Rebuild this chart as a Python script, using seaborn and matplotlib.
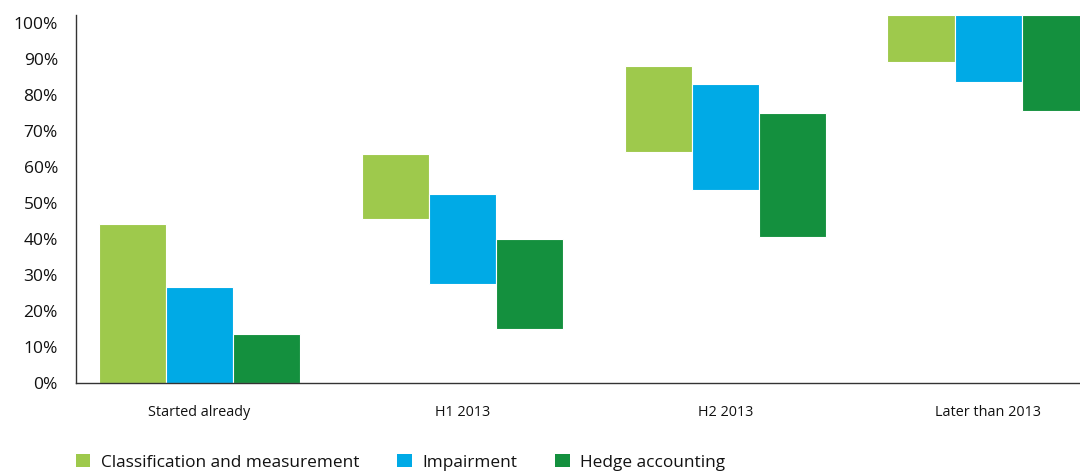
import numpy as np
import pandas as pd
import matplotlib.pyplot as plt
import seaborn as sns
from matplotlib.patches import Patch

# Data (% of respondents, cumulative bands per timing bucket)
categories = ["Started already", "H1 2013", "H2 2013", "Later than 2013"]
series = ["Classification and measurement", "Impairment", "Hedge accounting"]
colors = ["#9EC94C", "#00AAE6", "#14903E"]

class_low = [0, 45.5, 64, 89]
class_high = [44, 63.5, 88, 102]
impair_low = [0, 27.5, 53.5, 83.5]
impair_high = [26.5, 52.5, 83, 102]
hedge_low = [0, 15, 40.5, 75.5]
hedge_high = [13.5, 40, 75, 102]
y_ticks = [0, 10, 20, 30, 40, 50, 60, 70, 80, 90, 100]

lows = [class_low, impair_low, hedge_low]
highs = [class_high, impair_high, hedge_high]

sns.set_theme(style="white")
plt.rcParams["font.family"] = ["Open Sans", "DejaVu Sans"]

fig = plt.figure(figsize=(10.8, 4.73), dpi=100)
ax = fig.add_axes([0.0704, 0.1913, 0.9296, 0.7778])

bar_w = 0.255
for i, (name, low, high, c) in enumerate(zip(series, lows, highs, colors)):
    d = pd.DataFrame({
        "pos": np.arange(len(categories)) + (i - 1) * bar_w,
        "span": np.array(high) - np.array(low),
    })
    sns.barplot(data=d, x="pos", y="span", native_scale=True, orient="x",
                color=c, saturation=1, width=bar_w, bottom=low,
                edgecolor="white", linewidth=0.8, errorbar=None, ax=ax)

ax.set_xlim(-0.47, 3.35)
ax.set_ylim(0, 102.2)
ax.set_xticks(range(len(categories)))
ax.set_xticklabels(categories, fontsize=10.4, color="#111111")
ax.set_yticks(y_ticks)
ax.set_yticklabels([f"{t}%" for t in y_ticks], fontsize=12.5, color="#111111")
ax.tick_params(axis="x", length=0, pad=16)
ax.tick_params(axis="y", length=0, pad=13)
ax.set_xlabel("")
ax.set_ylabel("")
sns.despine(ax=ax)
for s in ["left", "bottom"]:
    ax.spines[s].set_color("#333333")
    ax.spines[s].set_linewidth(1.0)

handles = [Patch(facecolor=c, edgecolor="none") for c in colors]
fig.legend(handles, series, loc="center left", bbox_to_anchor=(0.0558, 0.023),
           ncol=3, frameon=False, fontsize=12.4, handlelength=0.85,
           handleheight=0.85, handletextpad=0.6, columnspacing=2.2,
           labelcolor="#111111")

plt.savefig("out.png", dpi=100)
